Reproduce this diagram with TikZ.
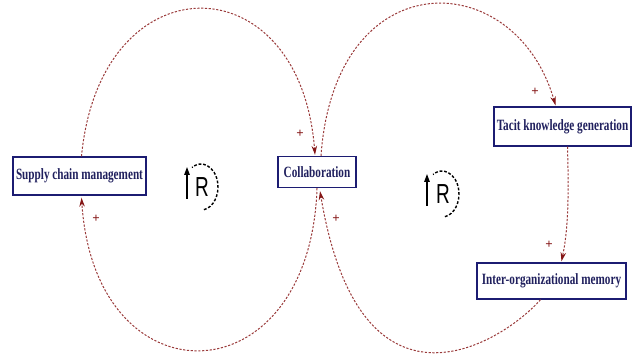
\documentclass[tikz,border=0pt]{standalone}
\usepackage{fontspec}
\setmainfont{Liberation Serif}
\newfontfamily\rfont{Liberation Sans}
\usetikzlibrary{arrows.meta}
\definecolor{linkred}{HTML}{9A3A3A}
\definecolor{tipred}{HTML}{851616}
\definecolor{boxnavy}{HTML}{1C1C72}
\definecolor{textnavy}{HTML}{20205E}
\newcommand{\varlabel}[1]{\scalebox{1}[1.4]{#1}}
\tikzset{
  varbox/.style={draw=boxnavy, line width=1.4pt, fill=white, text=textnavy,
    font=\bfseries\fontsize{11.2}{13}\selectfont, inner sep=0pt, align=center},
  link/.style={draw=linkred, line width=1pt, dash pattern=on 2.2pt off 1.6pt,
    -{Stealth[length=9pt,width=5.5pt,color=tipred,fill=tipred]}},
  pol/.style={text=tipred, font=\bfseries\fontsize{13}{13}\selectfont, inner sep=0pt},
  loopletter/.style={font=\rfont\fontsize{19}{19}\selectfont, inner sep=0pt},
  looparc/.style={draw=black, line width=1.4pt, dash pattern=on 2.8pt off 1.8pt},
  looparrow/.style={draw=black, line width=1.3pt, -{Triangle[length=8pt,width=5.5pt]}}
}
\begin{document}
\begin{tikzpicture}[x=1pt,y=-1pt]
\useasboundingbox (0,0) rectangle (632,358);
% nodes
\node[varbox, minimum width=133pt, minimum height=38pt] (scm) at (79.5,176) {\varlabel{Supply chain management}};
\node[varbox, minimum width=78pt, minimum height=31pt] (col) at (317,172) {\varlabel{Collaboration}};
\node[varbox, minimum width=137pt, minimum height=39pt] (tac) at (562.5,126.5) {\varlabel{Tacit knowledge generation}};
\node[varbox, minimum width=149pt, minimum height=36pt] (iom) at (551.5,281) {\varlabel{Inter-organizational memory}};
% anchor coordinates
\coordinate (scmT) at ([xshift=2pt]scm.north);
\coordinate (scmB) at ([xshift=2pt,yshift=-2pt]scm.south);
\coordinate (colTL) at ([xshift=-2pt,yshift=1pt]col.north);
\coordinate (colTR) at ([xshift=4pt]col.north);
\coordinate (colBL) at ([xshift=0pt]col.south);
\coordinate (colBR) at ([xshift=3pt,yshift=-3pt]col.south);
\coordinate (tacT) at ([xshift=-7pt,yshift=1pt]tac.north);
\coordinate (tacB) at ([xshift=5pt]tac.south);
\coordinate (iomT) at ([xshift=10pt,yshift=1pt]iom.north);
\coordinate (iomB) at ([xshift=-11pt]iom.south);
% connectors
\draw[link] (scmT) .. controls (100,-40) and (300,-40) .. (colTL);
\draw[link] (colBL) .. controls (310,400) and (95,405) .. (scmB);
\draw[link] (colTR) .. controls (335,-40) and (515,-35) .. (tacT);
\draw[link] (tacB) .. controls (569,200) and (568,230) .. (iomT);
\draw[link] (iomB) .. controls (500,345) and (360,430) .. (colBR);
% polarity signs
\node[pol] (p1) at (300,134) {+};
\node[pol] (p2) at (96,219) {+};
\node[pol] (p3) at (535,92) {+};
\node[pol] (p4) at (549,245) {+};
\node[pol] (p5) at (336,219) {+};
% loop symbols
\node[loopletter] (r1) at (202,187) {\scalebox{1}[1.45]{R}};
\draw[looparc] (201,187) ++(-80:17pt and 23pt) arc[start angle=-80, end angle=122, x radius=17pt, y radius=23pt];
\coordinate (a1s) at (187,199);
\coordinate (a1e) at (187,167);
\draw[looparrow] (a1s) -- (a1e);
\node[loopletter] (r2) at (443,194) {\scalebox{1}[1.45]{R}};
\draw[looparc] (442,194) ++(-80:17pt and 23pt) arc[start angle=-80, end angle=122, x radius=17pt, y radius=23pt];
\coordinate (a2s) at (427,206);
\coordinate (a2e) at (427,174);
\draw[looparrow] (a2s) -- (a2e);
\end{tikzpicture}
\end{document}
